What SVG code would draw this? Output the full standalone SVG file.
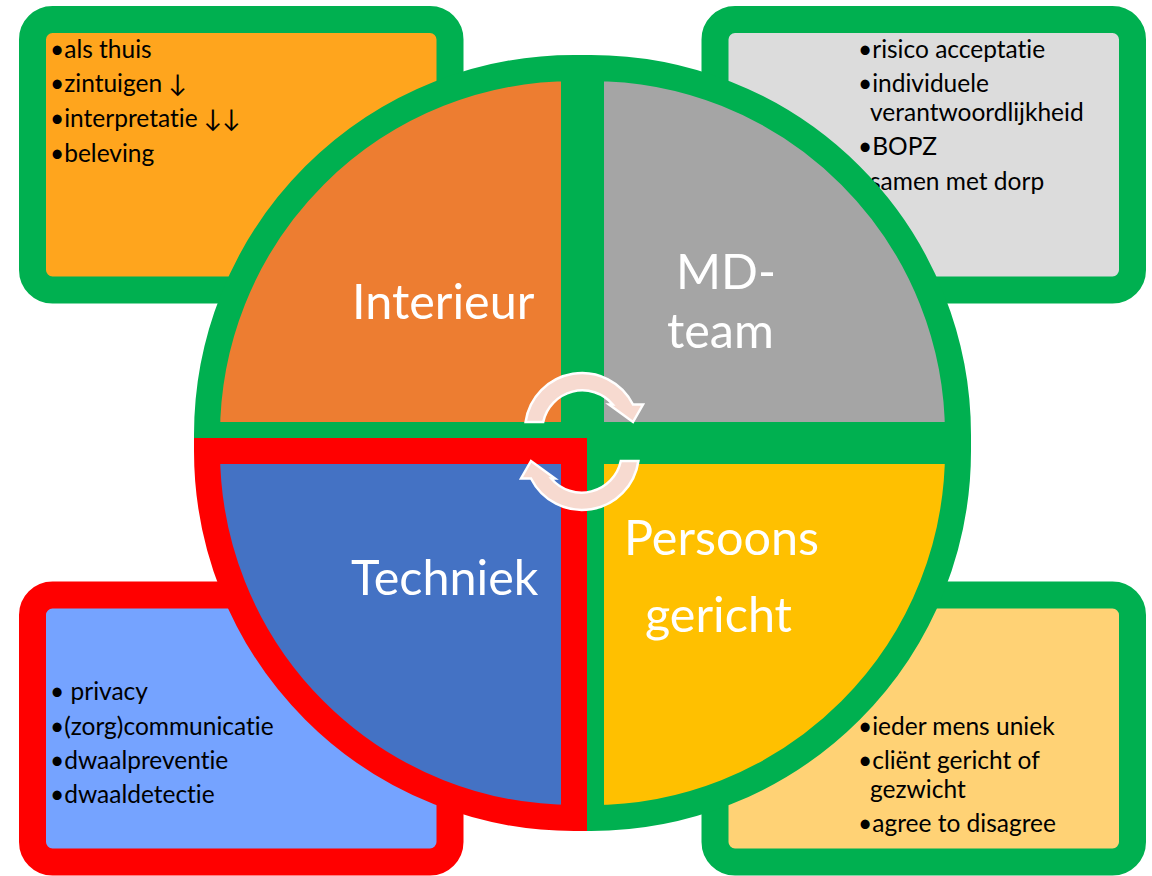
<svg xmlns="http://www.w3.org/2000/svg" width="1152" height="876" viewBox="0 0 1152 876">
<style>
.box{stroke-width:27;stroke-linejoin:round}
.g{stroke:#00B050}
.r{stroke:#FF0000}
.pie{stroke-width:26;stroke-linejoin:miter}
text{font-variant-ligatures:none;font-feature-settings:"liga" 0,"clig" 0}
.bt{font-family:Lato,"Liberation Sans",sans-serif;font-size:24.5px;fill:#000}
.big{font-family:Lato,"Liberation Sans",sans-serif;font-size:48.5px;fill:#fff}
.arr{fill:#F7DAD0;stroke:#fff;stroke-width:2.5;stroke-linejoin:miter}
</style>
<rect width="1152" height="876" fill="#fff"/>
<g id="box-interieur">
<rect class="box g" x="32.5" y="19.5" width="417.5" height="270.5" rx="20" fill="#FFA51D"/>
<text class="bt" x="50" y="58">•als thuis</text>
<text class="bt" x="50" y="92">•zintuigen ↓</text>
<text class="bt" x="50" y="127">•interpretatie ↓↓</text>
<text class="bt" x="50" y="162">•beleving</text>
</g>
<g id="box-mdteam">
<rect class="box g" x="715" y="19.5" width="417.5" height="270.5" rx="20" fill="#DCDCDC"/>
<text class="bt" x="858" y="58">•risico acceptatie</text>
<text class="bt" x="858" y="92">•individuele</text>
<text class="bt" x="870" y="121">verantwoordlijkheid</text>
<text class="bt" x="858" y="155">•BOPZ</text>
<text class="bt" x="870" y="190">samen met dorp</text>
</g>
<g id="box-techniek">
<rect class="box r" x="32.5" y="595" width="417.5" height="267" rx="20" fill="#75A3FF"/>
<text class="bt" x="50" y="700">• privacy</text>
<text class="bt" x="50" y="735">•(zorg)communicatie</text>
<text class="bt" x="50" y="769">•dwaalpreventie</text>
<text class="bt" x="50" y="803">•dwaaldetectie</text>
</g>
<g id="box-persoons">
<rect class="box g" x="715" y="595" width="417.5" height="267" rx="20" fill="#FFD275"/>
<text class="bt" x="858" y="735">•ieder mens uniek</text>
<text class="bt" x="858" y="769">•cliënt gericht of</text>
<text class="bt" x="870" y="798">gezwicht</text>
<text class="bt" x="858" y="832">•agree to disagree</text>
</g>
<g id="quad-interieur">
<path class="pie g" d="M574 435 L207 435 A367 367 0 0 1 574 68 Z" fill="#ED7D31"/>
<text class="big" x="352" y="319">Interieur</text>
</g>
<g id="quad-mdteam">
<path class="pie g" d="M591 435 L591 68 A367 367 0 0 1 958 435 Z" fill="#A5A5A5"/>
<text class="big" x="676" y="289">MD-</text>
<text class="big" x="667" y="348">team</text>
</g>
<g id="quad-persoons">
<path class="pie g" d="M591 451 L958 451 A367 367 0 0 1 591 818 Z" fill="#FFC000"/>
<text class="big" x="624" y="555">Persoons</text>
<text class="big" x="645" y="632">gericht</text>
</g>
<g id="quad-techniek">
<path class="pie r" d="M574 451 L574 818 A367 367 0 0 1 207 451 Z" fill="#4472C4"/>
<text class="big" x="351" y="595">Techniek</text>
</g>
<g id="connectors">
<path id="arrow-top" class="arr" d="M525.6 422 A57 57 0 0 1 633 404.5 L643 404.5 L633 422 L609 404.5 L612.8 404.5 A40 40 0 0 0 543.2 422 Z"/>
<path id="arrow-bottom" class="arr" transform="rotate(180 582 441.5)" d="M525.6 422 A57 57 0 0 1 633 404.5 L643 404.5 L633 422 L609 404.5 L612.8 404.5 A40 40 0 0 0 543.2 422 Z"/>
</g>
</svg>
